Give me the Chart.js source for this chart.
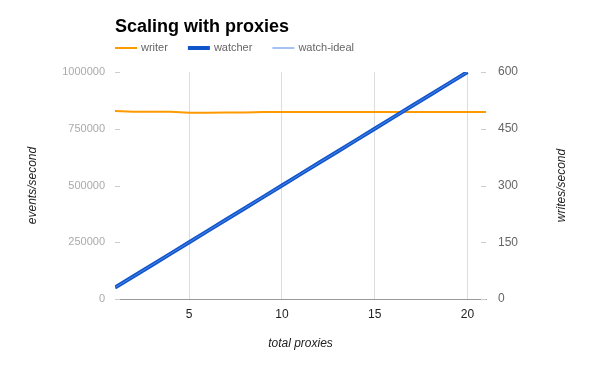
<!DOCTYPE html>
<html>
<head>
<meta charset="utf-8">
<script src="https://cdn.jsdelivr.net/npm/chart.js@4"></script>
<style>
  html, body { margin: 0; padding: 0; background: #fff; }
  #wrap { width: 600px; height: 371px; }
</style>
</head>
<body>
<div id="wrap"><canvas id="chart" width="600" height="371"></canvas></div>
<script>
const FONT = "Arial, 'Liberation Sans', sans-serif";

// data
const proxies = [1, 2, 3, 4, 5, 6, 7, 8, 9, 10, 11, 12, 13, 14, 15, 16, 17, 18, 19, 20, 21];
const writerRate = [497, 495, 495, 495, 492, 492, 493, 493, 494, 494, 494, 494, 494, 494, 494, 494, 494, 494, 494, 494, 494];
const watcherRate = [50000, 100000, 150000, 200000, 250000, 300000, 350000, 400000, 450000, 500000,
  550000, 600000, 650000, 700000, 750000, 800000, 850000, 900000, 950000, 1000000];
const idealRate = [50000, 100000, 150000, 200000, 250000, 300000, 350000, 400000, 450000, 500000,
  550000, 600000, 650000, 700000, 750000, 800000, 850000, 900000, 950000, 1000000];
const xTicks = [5, 10, 15, 20];

const pts = (ys) => ys.map((y, i) => ({ x: proxies[i], y: y }));

// Title + legend drawn above the plot, lined up with the plot's left edge
const headerPlugin = {
  id: "header",
  afterDraw(chart) {
    const ctx = chart.ctx;
    const left = chart.chartArea.left;
    ctx.save();
    ctx.fillStyle = "#000";
    ctx.font = "bold 18px " + FONT;
    ctx.textBaseline = "middle";
    ctx.fillText("Scaling with proxies", left, 27);

    ctx.font = "11px " + FONT;
    let x = left;
    chart.data.datasets.forEach((ds) => {
      ctx.strokeStyle = ds.borderColor;
      ctx.lineWidth = ds.borderWidth;
      ctx.beginPath();
      ctx.moveTo(x, 48);
      ctx.lineTo(x + 22, 48);
      ctx.stroke();
      ctx.fillStyle = "#666";
      ctx.fillText(ds.label, x + 26, 48);
      x += 26 + ctx.measureText(ds.label).width + 20;
    });

    // right axis title reads bottom-to-top, like the left one
    const yR = chart.scales.yR;
    ctx.font = "italic 12px " + FONT;
    ctx.fillStyle = "#222";
    ctx.textAlign = "center";
    ctx.translate(562, (yR.top + yR.bottom) / 2);
    ctx.rotate(-Math.PI / 2);
    ctx.fillText(yR.options.title.text, 0, 0);
    ctx.restore();
  }
};

// short tick marks inside the plot for both y axes
const innerTicks = {
  id: "innerTicks",
  afterDatasetsDraw(chart) {
    const ctx = chart.ctx;
    const { left, right } = chart.chartArea;
    ctx.save();
    ctx.strokeStyle = "#ccc";
    ctx.lineWidth = 1;
    chart.scales.yL.ticks.forEach((t) => {
      const y = Math.round(chart.scales.yL.getPixelForValue(t.value)) + 0.5;
      ctx.beginPath(); ctx.moveTo(left, y); ctx.lineTo(left + 5, y); ctx.stroke();
    });
    chart.scales.yR.ticks.forEach((t) => {
      const y = Math.round(chart.scales.yR.getPixelForValue(t.value)) + 0.5;
      ctx.beginPath(); ctx.moveTo(right - 5, y); ctx.lineTo(right, y); ctx.stroke();
    });
    ctx.restore();
  }
};

const plain = (v) => String(v);

new Chart(document.getElementById("chart"), {
  type: "line",
  data: {
    datasets: [
      { label: "writer", data: pts(writerRate), yAxisID: "yR", borderColor: "#ff9900", borderWidth: 2, pointRadius: 0, tension: 0, order: 2 },
      { label: "watcher", data: pts(watcherRate), yAxisID: "yL", borderColor: "#1155cc", borderWidth: 4, pointRadius: 0, tension: 0, order: 1 },
      { label: "watch-ideal", data: pts(idealRate), yAxisID: "yL", borderColor: "#4a86e8", borderWidth: 1, pointRadius: 0, tension: 0, order: 0 }
    ]
  },
  options: {
    responsive: false,
    animation: false,
    layout: { padding: { top: 72, left: 0, right: 0, bottom: 0 } },
    plugins: { legend: { display: false }, title: { display: false }, tooltip: { enabled: false } },
    scales: {
      x: {
        type: "linear",
        min: 1,
        max: 21,
        afterBuildTicks: (s) => { s.ticks = xTicks.map((v) => ({ value: v })); },
        afterFit: (s) => { s.height = 72; },
        grid: { color: "#dddddd", drawTicks: false },
        border: { color: "#999", width: 1 },
        ticks: { color: "#222", font: { family: FONT, size: 12 }, padding: 8, maxRotation: 0, callback: plain },
        title: { display: true, text: "total proxies", color: "#222", font: { family: FONT, size: 12, style: "italic" }, padding: { top: 0, bottom: 20 } }
      },
      yL: {
        position: "left",
        min: 0,
        max: 1000000,
        afterFit: (s) => { s.width = 115; },
        grid: { drawOnChartArea: false, drawTicks: false },
        border: { display: false },
        ticks: { stepSize: 250000, color: "#aaa", font: { family: FONT, size: 11 }, padding: 10, callback: plain },
        title: { display: true, text: "events/second", color: "#222", font: { family: FONT, size: 12, style: "italic" }, padding: { top: 25, bottom: 0 } }
      },
      yR: {
        position: "right",
        min: 0,
        max: 600,
        afterFit: (s) => { s.width = 114; },
        grid: { drawOnChartArea: false, drawTicks: false },
        border: { display: false },
        ticks: { stepSize: 150, color: "#666", font: { family: FONT, size: 12 }, padding: 12, callback: plain },
        title: { display: false, text: "writes/second" }
      }
    }
  },
  plugins: [headerPlugin, innerTicks]
});
</script>
</body>
</html>
